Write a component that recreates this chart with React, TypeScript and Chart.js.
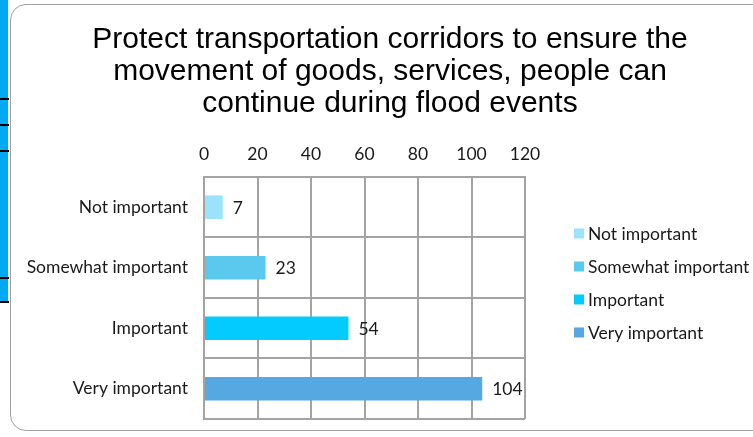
import { useEffect, useRef } from "react";
import { Chart, registerables } from "chart.js";

Chart.register(...registerables);

const TITLE_LINES = [
  "Protect transportation corridors to ensure the",
  "movement of goods, services, people can",
  "continue during flood events",
];
const CATEGORIES = ["Not important", "Somewhat important", "Important", "Very important"];
const VALUES = [7, 23, 54, 104];
const BAR_COLORS = ["#9be2fb", "#5bc8ee", "#03cbfe", "#56a8e3"];
const X_MIN = 0;
const X_MAX = 120;
const X_STEP = 20;

const FONT = "Lato, 'Open Sans', sans-serif";
const FONT_SIZE = 17.5;
const GRID = "#a3a3a3";
const TEXT = "#1a1a1a";

const valueLabels = {
  id: "valueLabels",
  afterDatasetsDraw(chart: any) {
    const { ctx } = chart;
    const meta = chart.getDatasetMeta(0);
    ctx.save();
    ctx.font = `${FONT_SIZE}px ${FONT}`;
    ctx.fillStyle = TEXT;
    ctx.textBaseline = "middle";
    ctx.textAlign = "left";
    meta.data.forEach((bar: any, i: number) => {
      ctx.fillText(String(VALUES[i]), bar.x + 10, bar.y + 1);
    });
    ctx.restore();
  },
};

const sideLegend = {
  id: "sideLegend",
  afterDraw(chart: any) {
    const { ctx, chartArea } = chart;
    const left = chartArea.right + 49;
    const midY = (chartArea.top + chartArea.bottom) / 2 - 15;
    const gap = 33;
    ctx.save();
    ctx.font = `${FONT_SIZE}px ${FONT}`;
    ctx.textBaseline = "middle";
    ctx.textAlign = "left";
    CATEGORIES.forEach((c, i) => {
      const y = midY + (i - 1.5) * gap;
      ctx.fillStyle = BAR_COLORS[i];
      ctx.fillRect(left, y - 5, 10, 10);
      ctx.fillStyle = TEXT;
      ctx.fillText(c, left + 14, y + 1);
    });
    ctx.restore();
  },
};

export default function App() {
  const ref = useRef<HTMLCanvasElement | null>(null);

  useEffect(() => {
    if (!ref.current) return;
    const chart = new Chart(ref.current, {
      type: "bar",
      data: {
        labels: CATEGORIES,
        datasets: [
          {
            data: VALUES,
            backgroundColor: BAR_COLORS,
            borderWidth: 0,
            barPercentage: 0.39,
            categoryPercentage: 1,
          },
        ],
      },
      options: {
        indexAxis: "y",
        animation: false,
        responsive: false,
        maintainAspectRatio: false,
        layout: { padding: { top: 0, left: 0, right: 0, bottom: 18 } },
        plugins: {
          title: {
            display: true,
            text: TITLE_LINES,
            color: "#000",
            font: { family: "'Liberation Sans', Arial, sans-serif", size: 30, weight: "normal", lineHeight: 1.083 },
            padding: { top: 23, bottom: 11.5 },
          },
          legend: { display: false },
          tooltip: { enabled: false },
        },
        scales: {
          x: {
            position: "top",
            min: X_MIN,
            max: X_MAX,
            ticks: { stepSize: X_STEP, color: TEXT, font: { family: FONT, size: FONT_SIZE }, padding: 12 },
            grid: { color: GRID, lineWidth: 2, drawTicks: false },
            border: { color: GRID, width: 2 },
          },
          y: {
            afterFit: (scale: any) => {
              scale.width = 177;
              scale.paddingTop = 0;
              scale.paddingBottom = 0;
            },
            ticks: { color: TEXT, font: { family: FONT, size: FONT_SIZE }, padding: 16 },
            grid: { color: GRID, lineWidth: 2, drawTicks: false, offset: true },
            border: { color: GRID, width: 2 },
          },
          legendSpace: {
            type: "category",
            axis: "y",
            position: "right",
            labels: CATEGORIES,
            ticks: { display: false },
            grid: { display: false, drawTicks: false },
            border: { display: false },
            afterFit: (scale: any) => {
              scale.width = 228;
              scale.paddingTop = 0;
              scale.paddingBottom = 0;
            },
          },
        },
      },
      plugins: [valueLabels, sideLegend],
    });
    return () => chart.destroy();
  }, []);

  return (
    <div style={{ position: "absolute", left: 0, top: 0, width: 753, height: 437, background: "#fff", overflow: "hidden" }}>
      <div style={{ position: "absolute", left: 0, top: 0, width: 8, height: 302, background: "#00a9f1" }} />
      {[98, 124, 150, 277, 301].map((y) => (
        <div key={y} style={{ position: "absolute", left: 0, top: y, width: 9, height: 2, background: "#000" }} />
      ))}
      <div
        style={{
          position: "absolute",
          left: 10,
          top: 4,
          width: 780,
          height: 427,
          border: "1.5px solid #a0a0a0",
          borderRadius: 16,
          boxSizing: "border-box",
        }}
      />
      <canvas ref={ref} width={726} height={437} style={{ position: "absolute", left: 27, top: 0, width: 726, height: 437 }} />
    </div>
  );
}
